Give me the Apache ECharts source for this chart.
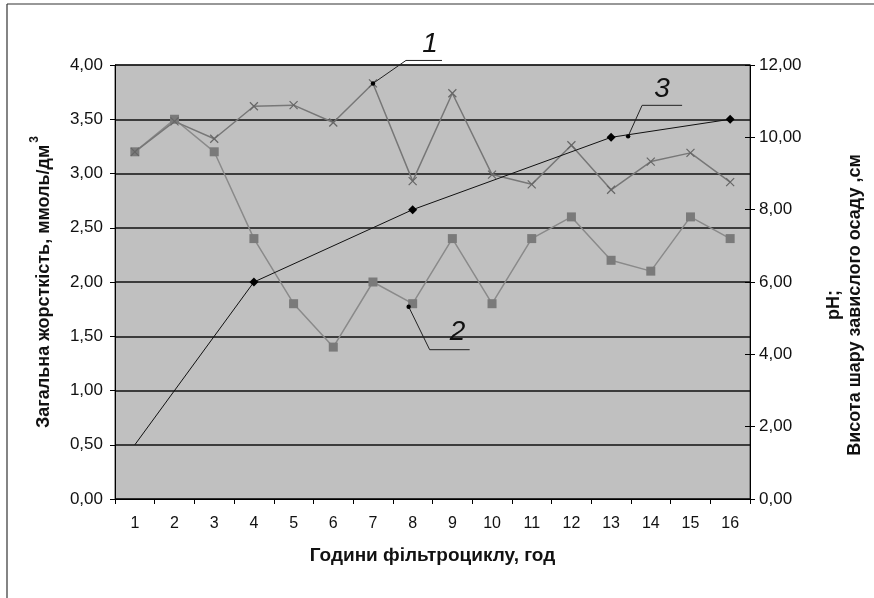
<!DOCTYPE html>
<html><head><meta charset="utf-8">
<script src="https://cdn.jsdelivr.net/npm/echarts@6/dist/echarts.min.js"></script>
<style>html,body{margin:0;padding:0;background:#fff}#c{width:874px;height:598px}</style>
</head><body><div id="c"></div>
<script>
const hours = ['1','2','3','4','5','6','7','8','9','10','11','12','13','14','15','16'];
// series 1 (crosses)
const series1 = [3.20,3.48,3.32,3.62,3.63,3.47,3.83,2.93,3.74,2.99,2.90,3.26,2.85,3.11,3.19,2.92];
// series 2 (squares)
const series2 = [3.20,3.50,3.20,2.40,1.80,1.40,2.00,1.80,2.40,1.80,2.40,2.60,2.20,2.10,2.60,2.40];
// series 3 (diamonds, right axis)
const series3 = [1.5,null,null,6.0,null,null,null,8.0,null,null,null,null,10.0,null,null,10.5];
const leftTicks = {min:0,max:4,interval:0.5};
const rightTicks = {min:0,max:12,interval:2};

const fmt = v => v.toFixed(2).replace('.', ',');
const lblFont = 'Liberation Sans, Arial, sans-serif';
const chart = echarts.init(document.getElementById('c'));
chart.setOption({
  backgroundColor:'#fff',
  animation:false,
  grid:{left:115,right:121,top:65,bottom:99,show:true,backgroundColor:'#c0c0c0',borderColor:'#444',borderWidth:1},
  xAxis:{type:'category',data:hours,boundaryGap:true,
    axisLine:{lineStyle:{color:'#000',width:1}},
    axisTick:{show:true,length:5,lineStyle:{color:'#000'}},
    axisLabel:{color:'#111',fontSize:16,fontFamily:lblFont,margin:17},
    name:'Години фільтроциклу, год',nameLocation:'middle',nameGap:47,
    nameTextStyle:{color:'#111',fontSize:19,fontWeight:'bold',fontFamily:lblFont}
  },
  yAxis:[
    {type:'value',position:'left',min:leftTicks.min,max:leftTicks.max,interval:leftTicks.interval,
     axisLine:{show:true,lineStyle:{color:'#000'}},
     axisTick:{show:true,length:5,lineStyle:{color:'#000'}},
     axisLabel:{formatter:fmt,color:'#111',fontSize:17,fontFamily:lblFont,margin:12},
     splitLine:{show:true,lineStyle:{color:'#111',width:1.6}},
     name:'{a|Загальна жорсткість, ммоль/дм}{s|3}',nameLocation:'middle',nameGap:62,nameRotate:90,
     nameTextStyle:{rich:{a:{fontSize:18,fontWeight:'bold',color:'#111',fontFamily:lblFont,verticalAlign:'bottom'},
                          s:{fontSize:12,fontWeight:'bold',color:'#111',fontFamily:lblFont,verticalAlign:'top',padding:[0,0,12,2]}}}
    },
    {type:'value',position:'right',min:rightTicks.min,max:rightTicks.max,interval:rightTicks.interval,
     axisLine:{show:true,lineStyle:{color:'#000'}},
     axisTick:{show:true,length:5,lineStyle:{color:'#000'}},
     axisLabel:{formatter:fmt,color:'#111',fontSize:17,fontFamily:lblFont,margin:9},
     splitLine:{show:false},
     name:'pH;\nВисота шару завислого осаду ,см',nameLocation:'middle',nameGap:74,nameRotate:90,
     nameTextStyle:{fontSize:18,fontWeight:'bold',color:'#111',fontFamily:lblFont,lineHeight:21,padding:[0,46,0,0]}
    },
    {type:'value',position:'right',min:rightTicks.min,max:rightTicks.max,interval:rightTicks.interval,
     axisLine:{show:false},axisTick:{show:true,inside:true,length:5,lineStyle:{color:'#000'}},
     axisLabel:{show:false},splitLine:{show:false}}
  ],
  series:[
    {name:'1',type:'line',yAxisIndex:0,data:series1,
     symbol:'path://M0,0L10,10M10,0L0,10',symbolSize:8,
     lineStyle:{color:'#777',width:1.5},
     itemStyle:{color:'rgba(0,0,0,0)',borderColor:'#666',borderWidth:1.2},z:3},
    {name:'2',type:'line',yAxisIndex:0,data:series2,
     symbol:'rect',symbolSize:9,
     lineStyle:{color:'#8a8a8a',width:1.5},
     itemStyle:{color:'#7a7a7a'},z:2},
    {name:'3',type:'line',yAxisIndex:1,connectNulls:true,
     data:series3.map((v,i)=> i===0 ? {value:v,symbol:'none'} : v),
     symbol:'diamond',symbolSize:9,
     lineStyle:{color:'#111',width:1},
     itemStyle:{color:'#000'},z:4}
  ]
});

// annotations positioned from data coordinates
const a1 = chart.convertToPixel({xAxisIndex:0,yAxisIndex:0},[6,series1[6]]);
const a2 = chart.convertToPixel({xAxisIndex:0,yAxisIndex:0},[7,series2[7]]);
const a3 = chart.convertToPixel({xAxisIndex:0,yAxisIndex:1},[12,series3[12]]);
const annFont = {fontSize:28,fontStyle:'italic',fontFamily:'Liberation Sans Narrow, Liberation Sans, sans-serif',fill:'#111'};
function ann(label, sx, sy, bx, by, ex, ey, tx, ty){
  return [
    {type:'polyline',shape:{points:[[sx,sy],[bx,by],[ex,ey]]},style:{stroke:'#222',lineWidth:1,fill:null},z:100},
    {type:'circle',shape:{cx:sx,cy:sy,r:2.2},style:{fill:'#000'},z:101},
    {type:'text',x:tx,y:ty,style:Object.assign({text:label,align:'center',verticalAlign:'bottom'},annFont),z:101}
  ];
}
chart.setOption({graphic:[
  {type:'line',shape:{x1:7,y1:4,x2:7,y2:598},style:{stroke:'#333',lineWidth:1.2}},
  {type:'line',shape:{x1:7,y1:4,x2:874,y2:4},style:{stroke:'#333',lineWidth:1.2}},
  ...ann('1', a1[0],a1[1], a1[0]+33,a1[1]-23, a1[0]+69,a1[1]-23, a1[0]+57,a1[1]-25),
  ...ann('2', a2[0]-4,a2[1]+3, a2[0]+17,a2[1]+46, a2[0]+57,a2[1]+46, a2[0]+45,a2[1]+43),
  ...ann('3', a3[0]+17,a3[1]-1, a3[0]+31,a3[1]-32, a3[0]+71,a3[1]-32, a3[0]+51,a3[1]-34)
]});
</script></body></html>
